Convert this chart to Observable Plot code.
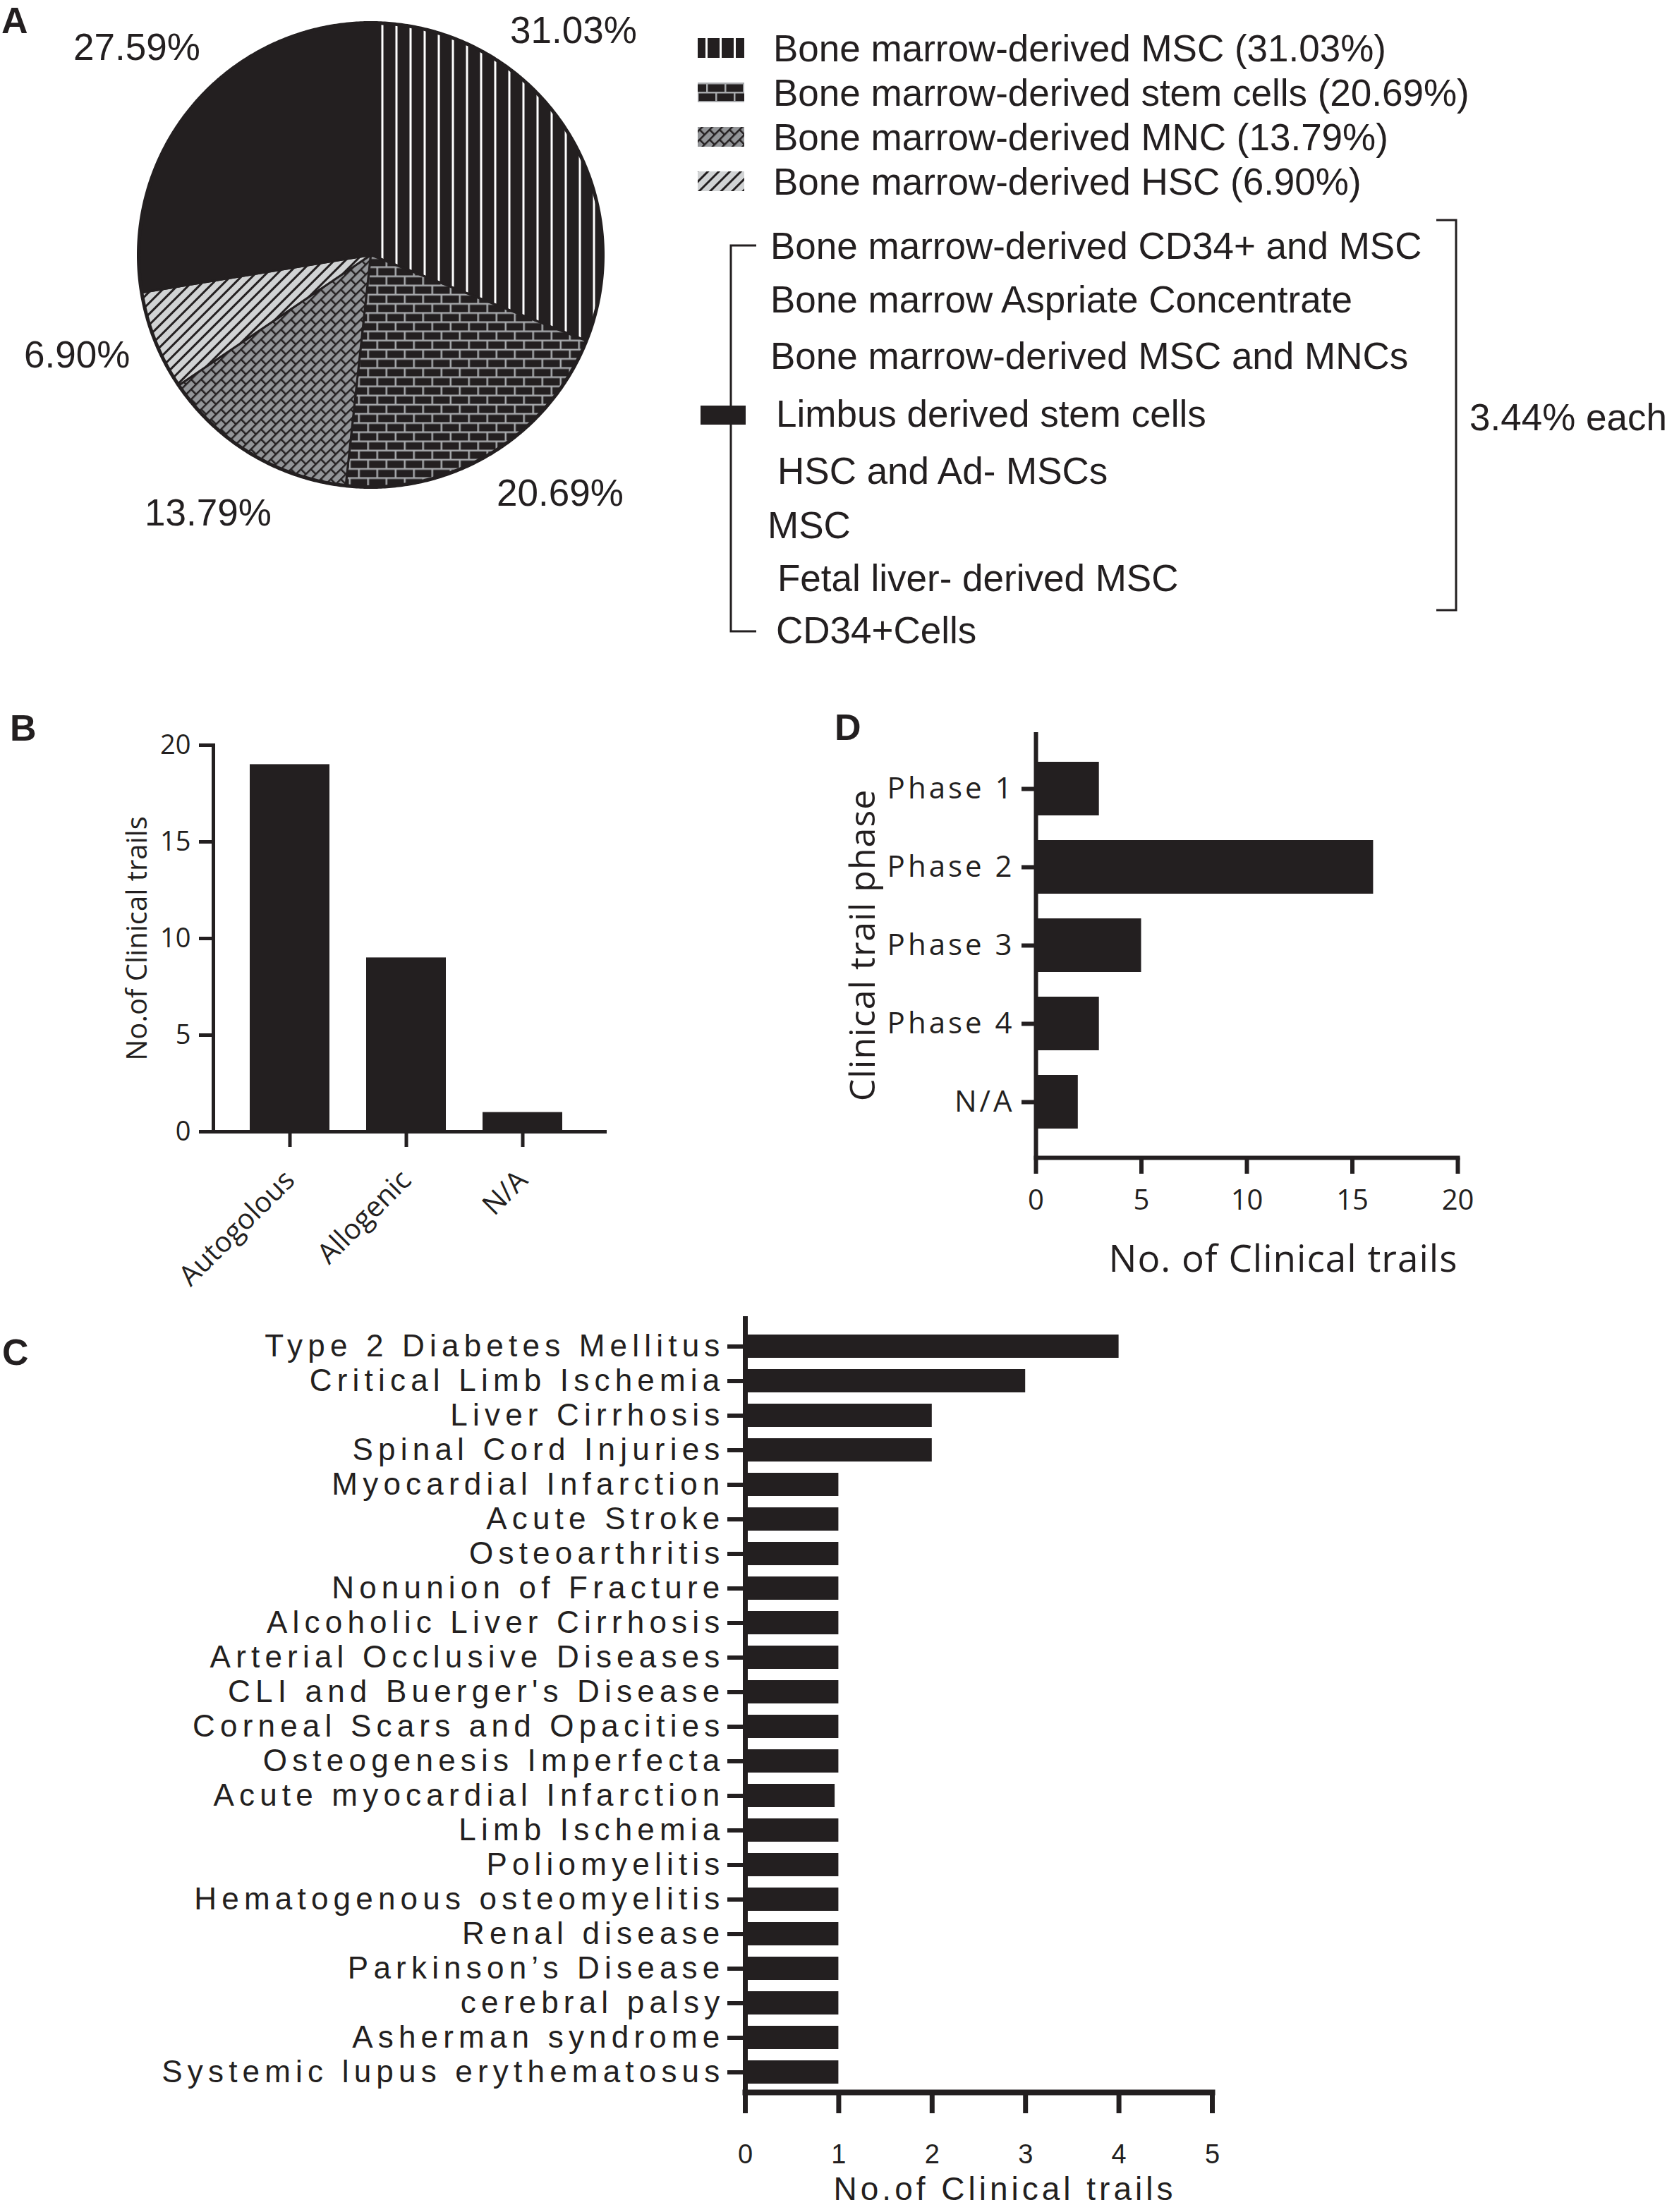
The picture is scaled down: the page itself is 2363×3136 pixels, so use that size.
<!DOCTYPE html>
<html><head><meta charset="utf-8">
<script src="https://cdn.jsdelivr.net/npm/d3@7"></script>
<script src="https://cdn.jsdelivr.net/npm/@observablehq/plot@0.6"></script>
<style>
html,body{margin:0;padding:0;background:#fff;}
#root{position:relative;width:2363px;height:3136px;overflow:hidden;background:#fff;}
#root svg{position:absolute;}
</style></head><body>
<svg width="0" height="0" style="position:absolute">
<defs>
<pattern id="pMSC" patternUnits="userSpaceOnUse" width="20" height="20"><rect width="20" height="20" fill="#231f20"/><rect x="0" width="3" height="20" fill="#fff"/></pattern>
<pattern id="pStem" patternUnits="userSpaceOnUse" width="26" height="26"><rect width="26" height="26" fill="#231f20"/><rect y="0" width="26" height="2.5" fill="#a7a9ac"/><rect y="13" width="26" height="2.5" fill="#a7a9ac"/><rect x="0" y="0" width="2.5" height="13" fill="#a7a9ac"/><rect x="13" y="13" width="2.5" height="13" fill="#a7a9ac"/></pattern>
<pattern id="pMNC" patternUnits="userSpaceOnUse" width="20" height="20" patternTransform="rotate(-45)"><rect width="20" height="20" fill="#939598"/><rect width="20" height="2.5" fill="#231f20"/><rect y="10" width="20" height="2.5" fill="#231f20"/><rect x="0" width="2.5" height="10" fill="#231f20"/><rect x="10" y="10" width="2.5" height="10" fill="#231f20"/></pattern>
<pattern id="pHSC" patternUnits="userSpaceOnUse" width="11" height="11" patternTransform="rotate(45)"><rect width="11" height="11" fill="#d1d3d4"/><rect width="3" height="11" fill="#231f20"/></pattern>
</defs></svg>
<div id="root"></div>
<script>
// ---------------- DATA ----------------
const pieCategories = ["Bone marrow-derived MSC", "Bone marrow-derived stem cells", "Bone marrow-derived MNC", "Bone marrow-derived HSC", "Other sources"];
const piePercents = [31.03, 20.69, 13.79, 6.90, 27.59];
const otherSources = ["Bone marrow-derived CD34+ and MSC", "Bone marrow Aspriate Concentrate", "Bone marrow-derived MSC and MNCs", "Limbus derived stem cells", "HSC and Ad- MSCs", "MSC", "Fetal liver- derived MSC", "CD34+Cells"];
const otherShare = "3.44% each";

const sourceTypes = ["Autogolous", "Allogenic", "N/A"];
const sourceCounts = [19, 9, 1];

const phases = ["Phase 1", "Phase 2", "Phase 3", "Phase 4", "N/A"];
const phaseCounts = [3, 16, 5, 3, 2];

const diseases = ["Type 2 Diabetes Mellitus", "Critical Limb Ischemia", "Liver Cirrhosis", "Spinal Cord Injuries", "Myocardial Infarction", "Acute Stroke", "Osteoarthritis", "Nonunion of Fracture", "Alcoholic Liver Cirrhosis", "Arterial Occlusive Diseases", "CLI and Buerger's Disease", "Corneal Scars and Opacities", "Osteogenesis Imperfecta", "Acute myocardial Infarction", "Limb Ischemia", "Poliomyelitis", "Hematogenous osteomyelitis", "Renal disease", "Parkinson\u2019s Disease", "cerebral palsy", "Asherman syndrome", "Systemic lupus erythematosus"];
const diseaseCounts = [4, 3, 2, 2, 1, 1, 1, 1, 1, 1, 1, 1, 1, 0.96, 1, 1, 1, 1, 1, 1, 1, 1];

// ---------------- STYLE ----------------
const INK = "#231f20";
const HELV = '"Liberation Sans", Arial, Helvetica, sans-serif';
const MYR = '"Open Sans", "Noto Sans", sans-serif';
const piePatterns = ["url(#pMSC)", "url(#pStem)", "url(#pMNC)", "url(#pHSC)", INK];
const fmt = d3.format(".2f");

const root = document.getElementById("root");
function place(svg, left, top) { svg.style.left = left + "px"; svg.style.top = top + "px"; root.appendChild(svg); return svg; }
const baseStyle = (family, size) => ({fontFamily: family, fontSize: size + "px", color: INK, background: "transparent", maxWidth: "none", overflow: "visible"});

// ---------------- PANEL A : pie ----------------
const arcs = d3.pie().sort(null).value(d => d)(piePercents);
const slicePts = arcs.map(a => {
  const pts = [{x: 0, y: 0}];
  const n = Math.max(2, Math.ceil((a.endAngle - a.startAngle) / (Math.PI / 360)));
  for (let k = 0; k <= n; k++) {
    const t = a.startAngle + (a.endAngle - a.startAngle) * k / n;
    pts.push({x: Math.sin(t), y: Math.cos(t)});
  }
  pts.push({x: 0, y: 0});
  return pts;
});
const rim = d3.range(0, 721).map(k => ({x: Math.sin(k * Math.PI / 360), y: Math.cos(k * Math.PI / 360)}));
const pie = Plot.plot({
  width: 900, height: 740, marginLeft: 196, marginRight: 46, marginTop: 32, marginBottom: 50,
  x: {domain: [-1, 1], axis: null}, y: {domain: [-1, 1], axis: null},
  style: baseStyle(HELV, 53),
  marks: [
    ...slicePts.map((pts, i) => Plot.line(pts, {x: "x", y: "y", fill: piePatterns[i], stroke: INK, strokeWidth: 3, strokeLinejoin: "round"})),
    Plot.line(rim, {x: "x", y: "y", stroke: INK, strokeWidth: 5})
  ]
});
place(pie, 0, 0);

// ---------------- PANEL B ----------------
const sourceData = sourceTypes.map((t, i) => ({type: t, count: sourceCounts[i]}));
const B = Plot.plot({
  width: 900, height: 760, marginLeft: 302, marginRight: 40, marginTop: 56, marginBottom: 156,
  x: {type: "band", domain: sourceTypes, paddingInner: 0.315, paddingOuter: 0.348, align: 0.448},
  y: {domain: [0, 20]},
  style: baseStyle(MYR, 38),
  marks: [
    Plot.barY(sourceData, {x: "type", y: "count", fill: INK}),
    Plot.ruleY([0], {strokeWidth: 5}),
    Plot.frame({anchor: "left", strokeWidth: 5}),
    Plot.axisY({ticks: [0, 5, 10, 15, 20], tickFormat: "d", tickSize: 20, tickPadding: 12, strokeWidth: 5, fontSize: 38, label: null}),
    Plot.axisX({tickSize: 22, tickPadding: 40, tickRotate: -45, strokeWidth: 5, fontSize: 40, label: null}),
    Plot.text(["No.of Clinical trails"], {text: d => d, frameAnchor: "left", dx: -107, rotate: -90, textAnchor: "middle", lineAnchor: "middle", fontSize: 40})
  ]
});
place(B, 0, 1000);

// ---------------- PANEL D ----------------
const phaseData = phases.map((p, i) => ({phase: p, count: phaseCounts[i]}));
const D = Plot.plot({
  width: 1000, height: 900, marginLeft: 368, marginRight: 34, marginTop: 88, marginBottom: 209,
  x: {domain: [0, 20]},
  y: {type: "band", domain: phases, paddingInner: 0.318, paddingOuter: 0.363, align: 0.5},
  style: baseStyle(MYR, 42),
  marks: [
    Plot.barX(phaseData, {x: "count", y: "phase", fill: INK}),
    Plot.ruleX([0], {strokeWidth: 6}),
    Plot.frame({anchor: "bottom", strokeWidth: 6}),
    Plot.axisX({ticks: [0, 5, 10, 15, 20], tickFormat: "d", tickSize: 23, tickPadding: 22, strokeWidth: 6, fontSize: 40, label: null}),
    Plot.axisY({tickSize: 20, tickPadding: 10, strokeWidth: 6, fontSize: 42, label: null}),
    Plot.text(["No. of Clinical trails"], {text: d => d, frameAnchor: "bottom-right", dy: 145, textAnchor: "end", lineAnchor: "middle", fontSize: 53}),
    Plot.text(["Clinical trail phase"], {text: d => d, frameAnchor: "left", dx: -245, rotate: -90, textAnchor: "middle", lineAnchor: "middle", fontSize: 50})
  ]
});
place(D, 1100, 950);
d3.select(D).selectAll('g[aria-label="y-axis tick label"] text').style("letter-spacing", "4px");
d3.select(D).selectAll('g[aria-label="text"] text').style("letter-spacing", "1px");

// ---------------- PANEL C ----------------
const diseaseData = diseases.map((d, i) => ({disease: d, count: diseaseCounts[i]}));
const C = Plot.plot({
  width: 1800, height: 1316, marginLeft: 1056, marginRight: 82, marginTop: 46, marginBottom: 170,
  x: {domain: [0, 5]},
  y: {type: "band", domain: diseases, paddingInner: 0.328, paddingOuter: 0.357, align: 0.67},
  style: baseStyle(HELV, 44),
  marks: [
    Plot.barX(diseaseData, {x: "count", y: "disease", fill: INK}),
    Plot.ruleX([0], {strokeWidth: 7}),
    Plot.frame({anchor: "bottom", strokeWidth: 8}),
    Plot.axisX({ticks: [0, 1, 2, 3, 4, 5], tickFormat: "d", tickSize: 30, tickPadding: 44, strokeWidth: 7, fontSize: 38, label: null}),
    Plot.axisY({tickSize: 25, tickPadding: 4, strokeWidth: 6, fontSize: 44, label: null}),
    Plot.text(["No.of Clinical trails"], {text: d => d, frameAnchor: "bottom", dx: 37, dy: 138, textAnchor: "middle", lineAnchor: "middle", fontSize: 46})
  ]
});
place(C, 0, 1820);
d3.select(C).selectAll('g[aria-label="y-axis tick label"] text').style("letter-spacing", "7.2px");
d3.select(C).selectAll('g[aria-label="text"] text').style("letter-spacing", "5px");

// ---------------- OVERLAY: panel letters, pie labels, legend ----------------
const ov = d3.select(root).append("svg").attr("width", 2363).attr("height", 3136)
  .style("left", "0px").style("top", "0px").style("pointer-events", "none")
  .attr("font-family", HELV).attr("fill", INK);

const letters = [["A", 2, 47], ["B", 14, 1050], ["D", 1183, 1049], ["C", 3, 1935]];
ov.selectAll("text.letter").data(letters).join("text").attr("class", "letter")
  .attr("x", d => d[1]).attr("y", d => d[2]).attr("font-size", 52).attr("font-weight", "bold").text(d => d[0]);

// pie percentage labels
const pieLabelPos = [[723, 61], [704, 717], [205, 745], [34, 521], [104, 85]];
ov.selectAll("text.pl").data(piePercents).join("text").attr("class", "pl")
  .attr("x", (d, i) => pieLabelPos[i][0]).attr("y", (d, i) => pieLabelPos[i][1])
  .attr("font-size", 53).text(d => fmt(d) + "%");

// legend rows (first four categories)
const legRows = pieCategories.slice(0, 4).map((c, i) => ({c, v: piePercents[i], p: piePatterns[i], base: 87 + 63 * i}));
ov.selectAll("rect.sw").data(legRows).join("rect").attr("class", "sw")
  .attr("x", 989).attr("y", d => d.base - 19 - 14).attr("width", 66).attr("height", 28).attr("fill", d => d.p);
ov.selectAll("text.lg").data(legRows).join("text").attr("class", "lg")
  .attr("x", 1096).attr("y", d => d.base).attr("font-size", 53).text(d => `${d.c} (${fmt(d.v)}%)`);

// bracketed "other" sources
const otherX = [1092, 1092, 1092, 1100, 1102, 1088, 1102, 1100];
const otherBase = [367, 443, 523, 605, 686, 763, 838, 912];
ov.selectAll("text.os").data(otherSources).join("text").attr("class", "os")
  .attr("x", (d, i) => otherX[i]).attr("y", (d, i) => otherBase[i]).attr("font-size", 53).text(d => d);
ov.append("path").attr("d", "M1072,348H1036V895H1072").attr("fill", "none").attr("stroke", INK).attr("stroke-width", 3);
ov.append("rect").attr("x", 993).attr("y", 575).attr("width", 64).attr("height", 27).attr("fill", INK);
ov.append("path").attr("d", "M2036,312H2064V865H2036").attr("fill", "none").attr("stroke", INK).attr("stroke-width", 3);
ov.append("text").attr("x", 2083).attr("y", 610).attr("font-size", 53).text(otherShare);
</script>
</body></html>
